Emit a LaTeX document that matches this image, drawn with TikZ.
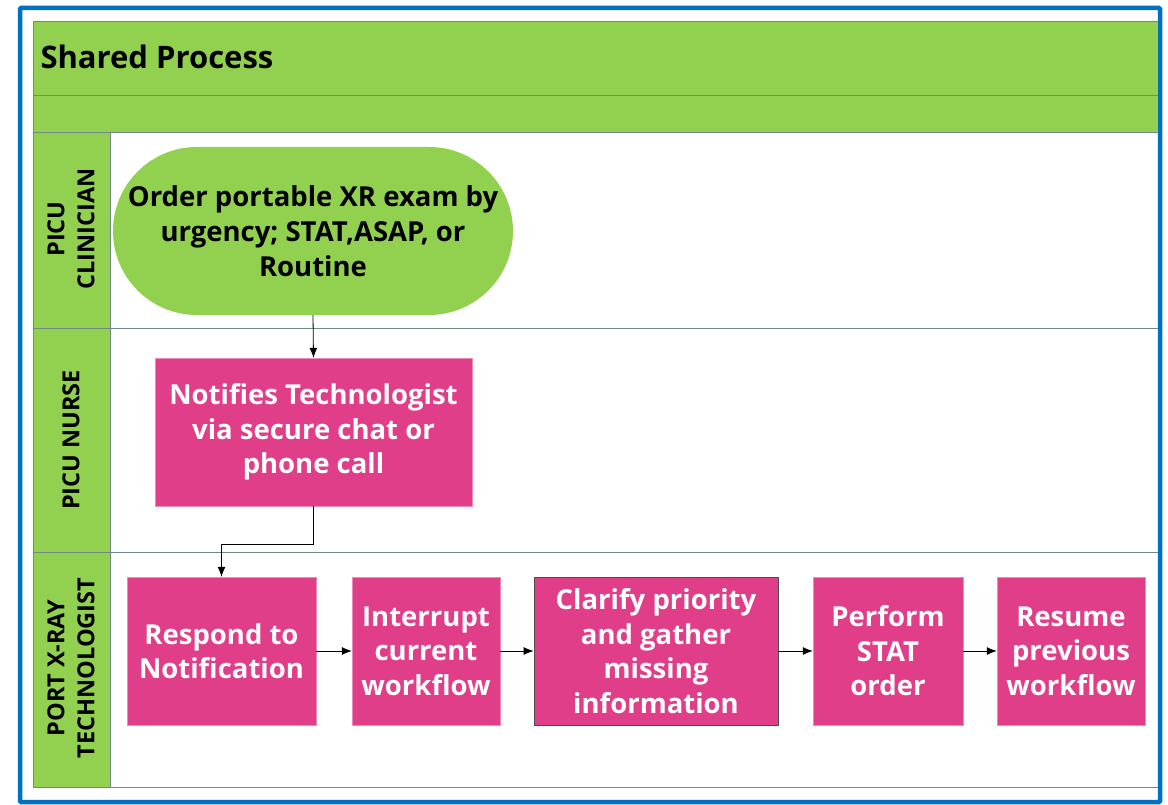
\documentclass[tikz,border=0pt]{standalone}
\usepackage{fontspec}
\setmainfont{Open Sans}
\usepackage{tikz}
\usetikzlibrary{arrows.meta,calc}
\definecolor{lanegreen}{HTML}{92D050}
\definecolor{boxpink}{HTML}{E03E88}
\definecolor{frameblue}{HTML}{0070C0}
\definecolor{laneline}{HTML}{6F8A86}

\begin{document}
\begin{tikzpicture}[x=1pt,y=-1pt,
  every node/.style={font=\bfseries},
  lanehead/.style={rotate=90,align=center,font=\bfseries\fontsize{23.5}{30}\selectfont},
  taskbox/.style={fill=boxpink,draw=boxpink!60!white,text=white,align=center,
    inner sep=0pt,font=\bfseries\fontsize{27.5}{34.5}\selectfont},
  flow/.style={-{Latex[length=10pt,width=8pt]},line width=0.8pt}]
\useasboundingbox (0,0) rectangle (1168,805);
% frame and pool
\fill[white] (0,0) rectangle (1168,805);
\draw[frameblue,line width=4.5pt,rounded corners=1pt] (20,8) rectangle (1160,802);
\fill[lanegreen] (33,21) rectangle (1158,133);
\fill[lanegreen] (33,133) rectangle (110,787);
\draw[laneline] (33,21) -- (1158,21);
\draw[laneline,line width=1pt] (33,96) -- (1158,96);
\draw[laneline,line width=1pt] (33,133) -- (1158,133);
\draw[laneline,line width=1pt] (33,328) -- (1158,328);
\draw[laneline,line width=1pt] (33,552) -- (1158,552);
\draw[laneline,line width=1pt] (33,787) -- (1158,787);
\draw[laneline] (33,21) -- (33,787);
\draw[laneline] (110,133) -- (110,787);
\node[anchor=west,font=\bfseries\fontsize{31}{36}\selectfont] (title) at (37,57) {Shared Process};
\node[lanehead] (clinician) at (71,229) {PICU\\CLINICIAN};
\node[lanehead] (nurse) at (71,440) {PICU NURSE};
\node[lanehead] (tech) at (71,668) {PORT X-RAY\\TECHNOLOGIST};
% steps
\node[fill=lanegreen,rounded corners=84pt,minimum width=400pt,minimum height=168pt,
  align=center,inner sep=0pt,font=\bfseries\fontsize{27.5}{35}\selectfont] (order) at (313,231)
  {Order portable XR exam by\\urgency; STAT,ASAP, or\\Routine};
\node[taskbox,minimum width=317pt,minimum height=148pt] (notify) at (313.5,432)
  {Notifies Technologist\\via secure chat or\\phone call};
\node[taskbox,minimum width=189pt,minimum height=148pt] (respond) at (221.5,651)
  {Respond to\\Notification};
\node[taskbox,minimum width=148pt,minimum height=148pt] (interrupt) at (426,651)
  {Interrupt\\current\\workflow};
\node[taskbox,draw=black!70,line width=0.8pt,minimum width=244pt,minimum height=148pt] (clarify) at (656,651)
  {Clarify priority\\and gather\\missing\\information};
\node[taskbox,minimum width=150pt,minimum height=148pt] (perform) at (888,651)
  {Perform\\STAT\\order};
\node[taskbox,minimum width=148pt,minimum height=148pt] (resume) at (1071,651)
  {Resume\\previous\\workflow};
% connectors
\draw[flow] (order.south) -- (notify.north);
\draw[flow] (notify.south) -- ++(0,38) -| (respond.north);
\draw[flow] (respond) -- (interrupt);
\draw[flow] (interrupt) -- (clarify);
\draw[flow] (clarify) -- (perform);
\draw[flow] (perform) -- (resume);
\end{tikzpicture}
\end{document}
